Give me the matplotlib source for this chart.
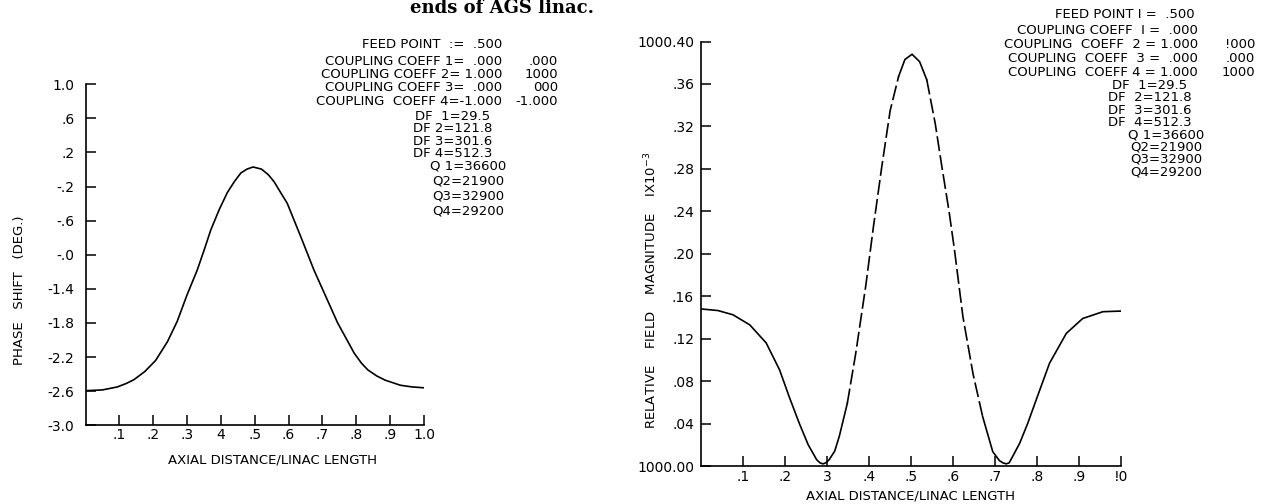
import matplotlib
matplotlib.use("Agg")
import matplotlib.pyplot as plt
import numpy as np

# left panel: phase shift along the linac
x_phase = [0.0, 0.05, 0.094, 0.12, 0.143, 0.175, 0.207, 0.242, 0.271, 0.30,
           0.33, 0.35, 0.37, 0.395, 0.419, 0.44, 0.459, 0.477, 0.495, 0.52,
           0.54, 0.557, 0.575, 0.596, 0.636, 0.675, 0.71, 0.745, 0.794, 0.815,
           0.834, 0.86, 0.885, 0.93, 0.965, 1.0]
phase = [-2.594, -2.585, -2.55, -2.51, -2.465, -2.37, -2.24, -2.02, -1.78, -1.47,
         -1.18, -0.95, -0.71, -0.47, -0.27, -0.14, -0.04, 0.005, 0.03, 0.005,
         -0.06, -0.142, -0.26, -0.396, -0.788, -1.18, -1.49, -1.80, -2.155, -2.27,
         -2.35, -2.42, -2.47, -2.53, -2.55, -2.56]

# right panel: relative field magnitude
x_field = [0.0, 0.04, 0.076, 0.116, 0.155, 0.187, 0.21, 0.234, 0.255, 0.275,
           0.283, 0.29, 0.297, 0.305, 0.318, 0.329, 0.348, 0.368, 0.392, 0.41,
           0.43, 0.45, 0.47, 0.485, 0.502, 0.52, 0.537, 0.557, 0.573, 0.59,
           0.603, 0.623, 0.647, 0.67, 0.694, 0.71, 0.718, 0.726, 0.733, 0.74,
           0.758, 0.777, 0.797, 0.829, 0.869, 0.908, 0.956, 1.0]
field = [1000.148, 1000.1465, 1000.1425, 1000.133, 1000.116, 1000.0905, 1000.065, 1000.040, 1000.020, 1000.006,
         1000.003, 1000.002, 1000.003, 1000.006, 1000.014, 1000.028, 1000.059, 1000.106, 1000.170, 1000.225,
         1000.282, 1000.335, 1000.367, 1000.383, 1000.388, 1000.381, 1000.364, 1000.323, 1000.282, 1000.240,
         1000.2035, 1000.1407, 1000.087, 1000.0465, 1000.0135, 1000.005, 1000.003, 1000.002, 1000.003, 1000.008,
         1000.0214, 1000.040, 1000.062, 1000.0968, 1000.125, 1000.139, 1000.1454, 1000.146]
# pieces of the field curve: (from x, to x, dashed?)
field_pieces = [(0.0, 0.348, False), (0.348, 0.47, True), (0.47, 0.537, False),
                (0.537, 0.67, True), (0.67, 1.0, False)]

x_ticks = [0.1, 0.2, 0.3, 0.4, 0.5, 0.6, 0.7, 0.8, 0.9, 1.0]
left_xlabels = [".1", ".2", ".3", "4", ".5", ".6", ".7", ".8", ".9", "1.0"]
right_xlabels = [".1", ".2", "3", ".4", ".5", ".6", ".7", ".8", ".9", "!0"]

left_yticks = [1.0, 0.6, 0.2, -0.2, -0.6, -1.0, -1.4, -1.8, -2.2, -2.6, -3.0]
left_ylabels = ["1.0", ".6", ".2", "-.2", "-.6", "-.0", "-1.4", "-1.8", "-2.2", "-2.6", "-3.0"]
right_yticks = [1000.40, 1000.36, 1000.32, 1000.28, 1000.24, 1000.20,
                1000.16, 1000.12, 1000.08, 1000.04, 1000.00]
right_ylabels = ["1000.40", ".36", ".32", ".28", ".24", ".20", ".16", ".12", ".08", ".04", "1000.00"]

# parameter listings, as blocks: (lines, x px, first line y px, line step px, alignment)
left_notes = [
    (["FEED POINT  :=  .500"], 502, 45, 12, "right"),
    (["COUPLING COEFF 1=  .000", "COUPLING COEFF 2= 1.000",
      "COUPLING COEFF 3=  .000", "COUPLING  COEFF 4=-1.000"], 502, 62.7, 12.4, "right"),
    ([".000", "1000", "000", "-1.000"], 558, 62.7, 12.4, "right"),
    (["DF  1=29.5", "DF 2=121.8", "DF 3=301.6", "DF 4=512.3"], 453, 118, 11.4, "center"),
    (["Q 1=36600", "Q2=21900", "Q3=32900", "Q4=29200"], 468, 166.7, 14.4, "center"),
]
right_notes = [
    (["FEED POINT I =  .500"], 1195, 15, 12, "right"),
    (["COUPLING COEFF  I =  .000", "COUPLING  COEFF  2 = 1.000",
      "COUPLING  COEFF  3 =  .000", "COUPLING  COEFF 4 = 1.000"], 1198, 31.7, 13.3, "right"),
    (["!000", ".000", "1000"], 1255, 45, 13.3, "right"),
    (["DF  1=29.5", "DF  2=121.8", "DF  3=301.6", "DF  4=512.3"], 1150, 87.5, 11.0, "center"),
    (["Q 1=36600", "Q2=21900", "Q3=32900", "Q4=29200"], 1166, 136, 11.5, "center"),
]

W, H = 1261, 504
NOTE_FS = 9.5
fig = plt.figure(figsize=(W / 100, H / 100), dpi=100)
fig.patch.set_facecolor("white")


def px(x, y):
    return x / W, 1 - y / H


def style_axes(ax):
    for side in ["top", "right"]:
        ax.spines[side].set_visible(False)
    for side in ["left", "bottom"]:
        ax.spines[side].set_linewidth(1.2)
    ax.tick_params(direction="in", length=7, width=1.1, labelsize=10, colors="black")


# ---- left panel
ax1 = fig.add_axes([85.5 / W, (H - 425.3) / H, 338.5 / W, 341 / H])
style_axes(ax1)
ax1.plot(x_phase, phase, color="black", lw=1.2)
ax1.set_xlim(0, 1.0)
ax1.set_ylim(-3.0, 1.0)
ax1.set_xticks(x_ticks)
ax1.set_xticklabels(left_xlabels)
ax1.set_yticks(left_yticks)
ax1.set_yticklabels(left_ylabels)
ax1.tick_params(axis="x", pad=2)
ax1.tick_params(axis="y", pad=8)

# ---- right panel
ax2 = fig.add_axes([701 / W, (H - 466) / H, 420.4 / W, 424.5 / H])
style_axes(ax2)
xf = np.array(x_field)
yf = np.array(field)
for lo, hi, dashed in field_pieces:
    m = (xf >= lo) & (xf <= hi)
    if dashed:
        ax2.plot(xf[m], yf[m], color="black", lw=1.2, dashes=(9, 2.5))
    else:
        ax2.plot(xf[m], yf[m], color="black", lw=1.2)
ax2.set_xlim(0, 1.0)
ax2.set_ylim(1000.0, 1000.40)
ax2.set_xticks(x_ticks)
ax2.set_xticklabels(right_xlabels)
ax2.set_yticks(right_yticks)
ax2.set_yticklabels(right_ylabels)
ax2.tick_params(axis="x", pad=3)
ax2.tick_params(axis="y", pad=5)

# ---- axis titles
lab = dict(fontsize=9.5, color="black", ha="center", va="center")
fig.text(*px(272, 460), "AXIAL DISTANCE/LINAC LENGTH", **lab)
fig.text(*px(911, 496), "AXIAL DISTANCE/LINAC LENGTH", **lab)
fig.text(*px(20, 290), "PHASE   SHIFT   (DEG.)", rotation=90, **lab)
fig.text(*px(651, 290), r"RELATIVE    FIELD    MAGNITUDE    IX10$^{-3}$", rotation=90, **lab)

# ---- parameter listings
pitch = 0.92 * NOTE_FS * 100 / 72   # line pitch in px at linespacing 1
for lines, x, y0, step, ha in left_notes + right_notes:
    yc = y0 + step * (len(lines) - 1) / 2
    fig.text(*px(x, yc), "\n".join(lines), ha=ha, va="center", multialignment=ha,
             fontsize=NOTE_FS, color="black", linespacing=step / pitch)

# caption fragment cut at the top edge
fig.text(*px(502, 13), "ends of AGS linac.", ha="center", va="baseline",
         fontsize=13, fontweight="bold", family="DejaVu Serif")

fig.savefig("out.png", dpi=100)
